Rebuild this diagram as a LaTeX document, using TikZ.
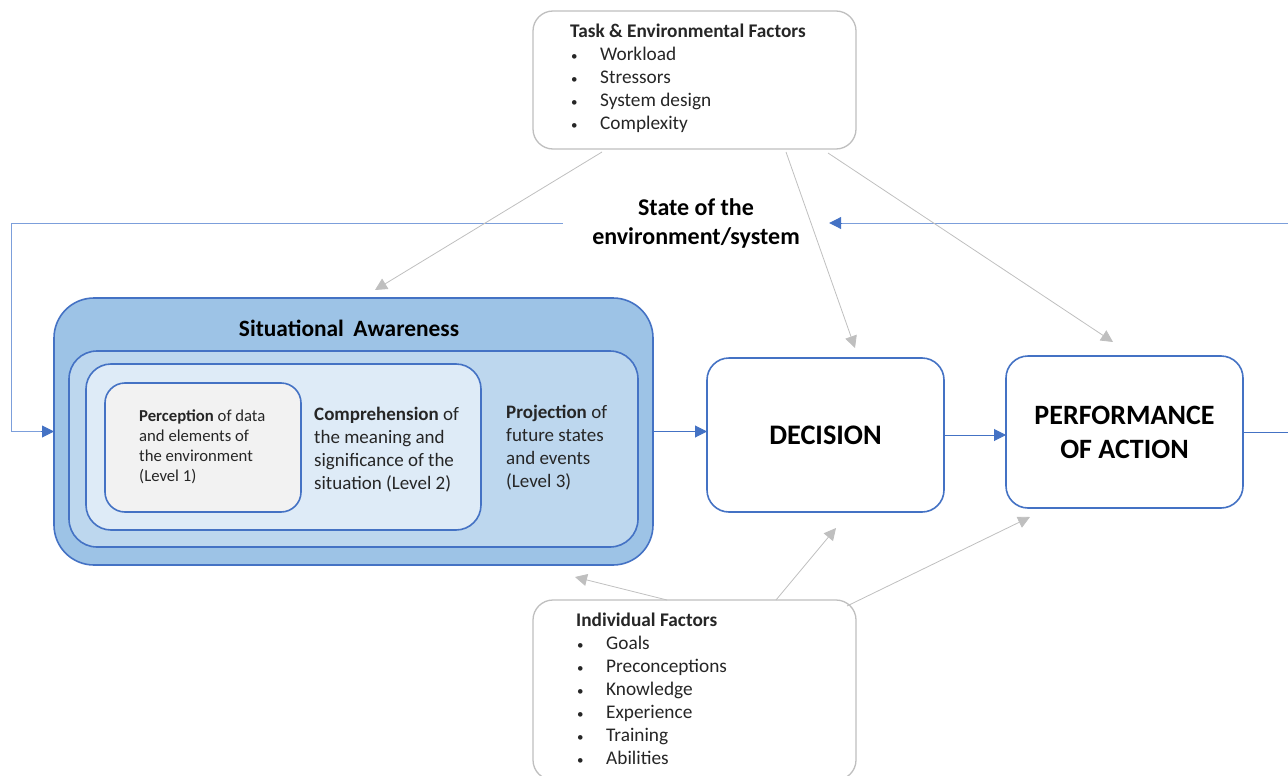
\documentclass[tikz,border=0pt]{standalone}
\usepackage{fontspec}
\setmainfont{Carlito}
\usetikzlibrary{arrows.meta,calc}
\definecolor{bl}{HTML}{4472C4}
\definecolor{blline}{HTML}{7C9FDB}
\definecolor{gr}{HTML}{BFBFBF}
\definecolor{saA}{HTML}{9DC3E6}
\definecolor{saB}{HTML}{BDD7EE}
\definecolor{saC}{HTML}{DEEBF7}
\definecolor{saD}{HTML}{F2F2F2}
\definecolor{txt}{HTML}{262626}
\newcommand{\itm}[1]{\makebox[30pt][l]{\hspace{1pt}{\fontsize{13}{13}\selectfont\textbullet}}#1}
\begin{document}
\begin{tikzpicture}[x=1pt,y=-1pt,
  rbox/.style={draw=bl, line width=1.6pt, inner sep=0pt, outer sep=0pt},
  gbox/.style={draw=gr, line width=1.3pt, fill=white, inner sep=0pt, outer sep=0pt, rounded corners=20pt, minimum width=323pt},
  tx/.style={inner sep=0pt, align=left, text=txt},
  garrow/.style={draw=gr, line width=0.8pt, -{Triangle[length=12pt,width=12pt]}},
  barrow/.style={draw=bl, line width=1pt, -{Triangle[length=12pt,width=12pt]}},
  fb/.style={draw=blline, line width=1pt}
]
\useasboundingbox (0,0) rectangle (1288,776);

% factor boxes
\node[gbox, minimum height=138pt] (task) at (694.5,80) {};
\node[gbox, minimum height=180pt] (indiv) at (694.5,690) {};
\node[tx, anchor=west, font=\fontsize{19.3}{23}\selectfont] (tasktxt) at (570,78)
  {\textbf{Task \& Environmental Factors}\\ \itm{Workload}\\ \itm{Stressors}\\ \itm{System design}\\ \itm{Complexity}};
\node[tx, anchor=west, font=\fontsize{19.3}{23}\selectfont] (indivtxt) at (576,688.5)
  {\textbf{Individual Factors}\\ \itm{Goals}\\ \itm{Preconceptions}\\ \itm{Knowledge}\\ \itm{Experience}\\ \itm{Training}\\ \itm{Abilities}};

% state label
\node[inner sep=0pt, minimum width=266pt, align=center, font=\fontsize{24}{29}\selectfont\bfseries, text=black] (state) at (696,223)
  {State of the\\environment/system};

% situational awareness
\node[rbox, fill=saA, rounded corners=40pt, minimum width=599pt, minimum height=267pt] (sa) at (353.5,431.5) {};
\node[rbox, fill=saB, rounded corners=28pt, minimum width=569pt, minimum height=196pt] (l3) at (353.5,449) {};
\node[rbox, fill=saC, rounded corners=25pt, minimum width=395pt, minimum height=166pt] (l2) at (283.5,447) {};
\node[rbox, fill=saD, rounded corners=20pt, minimum width=196pt, minimum height=129pt] (l1) at (203,447.5) {};
\node[inner sep=0pt, font=\fontsize{23.4}{26}\selectfont\bfseries, text=black] (satitle) at (349,328) {Situational\hspace{0.4em}Awareness};
\node[tx, anchor=west, font=\fontsize{16.7}{20}\selectfont] (l1txt) at (139,447)
  {\textbf{Perception} of data\\and elements of\\the environment\\(Level 1)};
\node[tx, anchor=west, font=\fontsize{19}{23}\selectfont] (l2txt) at (314,449.5)
  {\textbf{Comprehension} of\\the meaning and\\significance of the\\situation (Level 2)};
\node[tx, anchor=west, font=\fontsize{19}{23}\selectfont] (l3txt) at (506,447.5)
  {\textbf{Projection} of\\future states\\and events\\(Level 3)};

% decision / performance
\node[rbox, fill=white, rounded corners=22pt, minimum width=237pt, minimum height=154pt, align=center,
  font=\fontsize{28.3}{34}\selectfont\bfseries] (dec) at (825.5,435) {DECISION};
\node[rbox, fill=white, rounded corners=22pt, minimum width=237pt, minimum height=152pt, align=center,
  font=\fontsize{28}{34}\selectfont\bfseries] (perf) at (1124.5,432) {PERFORMANCE\\OF ACTION};

% blue flow
\draw[barrow] (sa.east) -- (sa.east -| dec.west);
\draw[barrow] (dec.east) -- (dec.east -| perf.west);
\coordinate (rtA) at (1288,432);
\draw[fb, draw=bl] (perf.east) -- (rtA);
\coordinate (rtB) at (1288,223);
\draw[fb] (rtB) -- ($(state.east)+(12,0)$);
\draw[barrow] ($(state.east)+(13,0)$) -- (state.east);
\coordinate (lc) at (11,223);
\draw[fb] (state.west) -- (lc) |- ($(sa.west)+(-12,0)$);
\draw[barrow] ($(sa.west)+(-13,0)$) -- (sa.west);

% grey influences
\coordinate (tA) at (602,152);
\coordinate (tB) at (786,152);
\coordinate (tC) at (828,153);
\coordinate (eA) at (375,290);
\coordinate (eB) at (855,348);
\coordinate (eC) at (1113,342);
\draw[garrow] (tA) -- (eA);
\draw[garrow] (tB) -- (eB);
\draw[garrow] (tC) -- (eC);
\coordinate (iA) at (667,600);
\coordinate (iB) at (776,600);
\coordinate (iC) at (847,606);
\coordinate (fA) at (575,577);
\coordinate (fB) at (836,528);
\coordinate (fC) at (1030,517);
\draw[garrow] (iA) -- (fA);
\draw[garrow] (iB) -- (fB);
\draw[garrow] (iC) -- (fC);
\end{tikzpicture}
\end{document}
